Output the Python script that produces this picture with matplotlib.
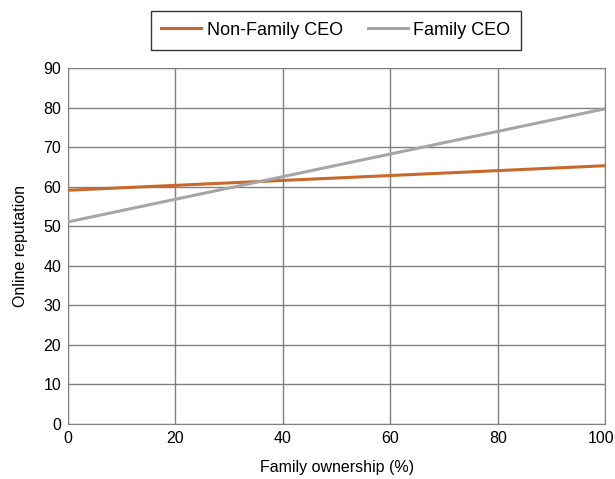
from matplotlib import pyplot as plt
from matplotlib import transforms

plt.rcParams['font.family'] = ['Liberation Sans', 'DejaVu Sans']

ownership = [0, 100]
non_family = [59.1, 65.3]
family = [51.1, 79.7]

fig = plt.figure(figsize=(6.15, 4.79), dpi=100)
ax = fig.add_axes([0.1106, 0.1148, 0.8734, 0.7432])

ax.plot(ownership, non_family, color="#c8682a", lw=2.2, label="Non-Family CEO", zorder=3)
ax.plot(ownership, family, color="#a6a6a6", lw=2.2, label="Family CEO", zorder=3)

ax.set_xlim(0, 100)
ax.set_ylim(0, 90)
ax.set_xticks(range(0, 101, 20))
ax.set_yticks(range(0, 91, 10))
ax.grid(color="#808080", lw=1)
for s in ax.spines.values():
	s.set_color("#808080")
ax.tick_params(length=0, labelsize=11.5, pad=5)
ax.set_xlabel("Family ownership (%)", fontsize=11.5, labelpad=10)
ax.set_ylabel("Online reputation", fontsize=11.5, labelpad=11)

# nudge the last x label so it stays inside the figure
last = ax.get_xticklabels()[-1]
last.set_transform(last.get_transform() + transforms.ScaledTranslation(-4/100, 0, fig.dpi_scale_trans))

leg = fig.legend(loc="center", bbox_to_anchor=(0.546, 0.937), ncol=2, fontsize=13,
	frameon=True, fancybox=False, edgecolor="black", handlelength=2.2,
	handletextpad=0.3, columnspacing=1.4, borderpad=0.6)
leg.get_frame().set_linewidth(1)

fig.savefig("out.png", dpi=100)
